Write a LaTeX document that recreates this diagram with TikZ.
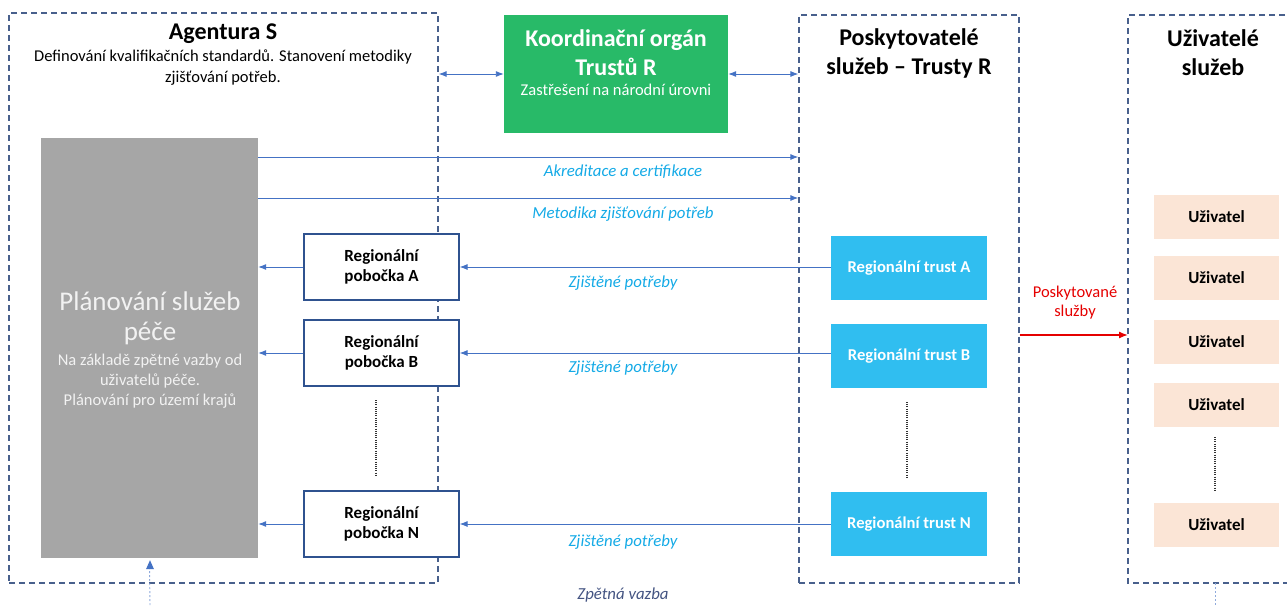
\documentclass[tikz,border=0pt]{standalone}
\usepackage{fontspec}
\setmainfont{Carlito}
\usetikzlibrary{arrows.meta,calc}

\definecolor{framecol}{RGB}{72,96,140}
\definecolor{arrowcol}{RGB}{68,114,196}
\definecolor{labelcol}{RGB}{20,170,230}
\definecolor{greenbox}{RGB}{40,186,104}
\definecolor{trustcol}{RGB}{48,190,240}
\definecolor{planbox}{RGB}{166,166,166}
\definecolor{pobborder}{RGB}{47,82,143}
\definecolor{userfill}{RGB}{251,229,214}
\definecolor{feedcol}{RGB}{143,170,220}
\definecolor{feedtext}{RGB}{68,84,130}

\tikzset{
  groupbox/.style={draw=framecol, line width=1.3pt, dash pattern=on 6pt off 4pt, inner sep=0pt},
  headfont/.style={font=\fontsize{24}{29}\selectfont\bfseries, align=center, inner sep=0pt},
  txtfont/.style={font=\fontsize{16.5}{21}\selectfont, align=center, inner sep=0pt},
  smallbold/.style={font=\fontsize{17}{20}\selectfont\bfseries},
  flowlabel/.style={font=\fontsize{16.8}{20}\selectfont\itshape, text=labelcol, inner sep=0pt},
  arr/.style={draw=arrowcol, line width=0.9pt, -{Latex[length=8pt,width=6pt]}},
  dblarr/.style={draw=arrowcol, line width=0.9pt, {Latex[length=8pt,width=6pt]}-{Latex[length=8pt,width=6pt]}},
  pobbox/.style={draw=pobborder, line width=1.2pt, fill=white, minimum width=155pt, minimum height=66pt, align=center, smallbold, inner sep=0pt},
  trustbox/.style={fill=trustcol, minimum width=156pt, minimum height=64pt, text=white, font=\fontsize{16.6}{20}\selectfont\bfseries, inner sep=0pt},
  userbox/.style={fill=userfill, minimum width=125pt, minimum height=44pt, smallbold, inner sep=0pt},
  dots/.style={draw=black!80, line width=1.6pt, dash pattern=on 1pt off 1.2pt},
}

\begin{document}
\begin{tikzpicture}[x=1pt,y=-1pt]
\useasboundingbox (0,0) rectangle (1287,605);

% group frames
\node[groupbox, minimum width=429pt, minimum height=570pt] (agency) at (223.5,298) {};
\node[groupbox, minimum width=220pt, minimum height=568pt] (providers) at (909,299) {};
\draw[groupbox] (1295,15) -- (1128,15) coordinate (usersNW) -- (1128,583) -- (1295,583);
\coordinate (usersW) at (1128,335);

% agency heading
\node[headfont] (agtitle) at (223,34) {Agentura S};
\node[txtfont] (agdesc) at (223,68) {Definování kvalifikačních standardů. Stanovení metodiky\\zjišťování potřeb.};

% national coordination body
\node[fill=greenbox, minimum width=224pt, minimum height=118pt, inner sep=0pt] (coord) at (616,74) {};
\node[headfont, text=white] (coordtitle) at (616,53) {Koordinační orgán\\Trustů R};
\node[txtfont, text=white] (coordsub) at (616,90) {Zastřešení na národní úrovni};
\draw[dblarr] (coord.west) -- (coord.west -| agency.east);
\draw[dblarr] (coord.east) -- (coord.east -| providers.west);

% provider and user headings
\node[headfont] (provtitle) at (909,53) {Poskytovatelé\\služeb – Trusty R};
\node[headfont] (usertitle) at (1213,53) {Uživatelé\\služeb};

% planning block
\node[fill=planbox, minimum width=217pt, minimum height=420pt, inner sep=0pt] (plan) at (149.5,348) {};
\node[font=\fontsize{27}{30}\selectfont, text=white!95!black, align=center, inner sep=0pt] (plantitle) at (150,318) {Plánování služeb\\péče};
\node[txtfont, text=white!95!black, font=\fontsize{16.5}{20}\selectfont] (plandesc) at (150,381) {Na základě zpětné vazby od\\uživatelů péče.\\Plánování pro území krajů};

% accreditation and methodology
\coordinate (accY) at (0,157);
\coordinate (metY) at (0,198);
\draw[arr] (plan.east |- accY) -- (providers.west |- accY);
\draw[arr] (plan.east |- metY) -- (providers.west |- metY);
\node[flowlabel] (acclabel) at (623,172) {Akreditace a certifikace};
\node[flowlabel] (metlabel) at (623,214) {Metodika zjišťování potřeb};

% regional branches
\node[pobbox] (pobA) at (381.5,267) {Regionální\\pobočka A};
\node[pobbox] (pobB) at (381.5,353) {Regionální\\pobočka B};
\node[pobbox] (pobN) at (381.5,524) {Regionální\\pobočka N};

% regional trusts
\node[trustbox] (trustA) at (909,268) {Regionální trust A};
\node[trustbox] (trustB) at (909,356) {Regionální trust B};
\node[trustbox] (trustN) at (909,524) {Regionální trust N};

\draw[arr] (trustA.west |- pobA) -- (pobA.east);
\draw[arr] (trustB.west |- pobB) -- (pobB.east);
\draw[arr] (trustN.west |- pobN) -- (pobN.east);
\draw[arr] (pobA.west) -- (pobA.west -| plan.east);
\draw[arr] (pobB.west) -- (pobB.west -| plan.east);
\draw[arr] (pobN.west) -- (pobN.west -| plan.east);

\node[flowlabel] (needA) at (623,283) {Zjištěné potřeby};
\node[flowlabel] (needB) at (623,368) {Zjištěné potřeby};
\node[flowlabel] (needN) at (623,542) {Zjištěné potřeby};

% users
\node[userbox] (u1) at (1216.5,217) {Uživatel};
\node[userbox] (u2) at (1216.5,278) {Uživatel};
\node[userbox] (u3) at (1216.5,342) {Uživatel};
\node[userbox] (u4) at (1216.5,405) {Uživatel};
\node[userbox] (u5) at (1216.5,525) {Uživatel};

% continuation marks
\draw[dots] (376,400) -- (376,477);
\draw[dots] (907,402) -- (907,477);
\draw[dots] (1215,437) -- (1215,490);

% provided services
\draw[draw=red!90!black, line width=1.4pt, -{Latex[length=9pt,width=7pt]}] (providers.east |- usersW) -- (usersW);
\node[text=red!90!black, align=center, inner sep=0pt, font=\fontsize{16.5}{19}\selectfont] (servlabel) at (1075,303) {Poskytované\\služby};

% feedback loop
\coordinate (fbLeft) at (150,605);
\coordinate (fbRightTop) at (1215,583);
\coordinate (fbRight) at (1215,605);
\draw[draw=feedcol, line width=0.9pt, dash pattern=on 2pt off 2pt] (fbLeft) -- ($(plan.south)+(0,6)$);
\draw[draw=none, fill=arrowcol] ($(plan.south)+(0.5,2)$) -- ++(-4,9) -- ++(8,0) -- cycle;
\draw[draw=feedcol, line width=0.9pt, dash pattern=on 2pt off 2pt] (fbRightTop) -- (fbRight);
\node[font=\fontsize{16.8}{20}\selectfont\itshape, text=feedtext, inner sep=0pt] (fblabel) at (623,595) {Zpětná vazba};
\end{tikzpicture}
\end{document}
